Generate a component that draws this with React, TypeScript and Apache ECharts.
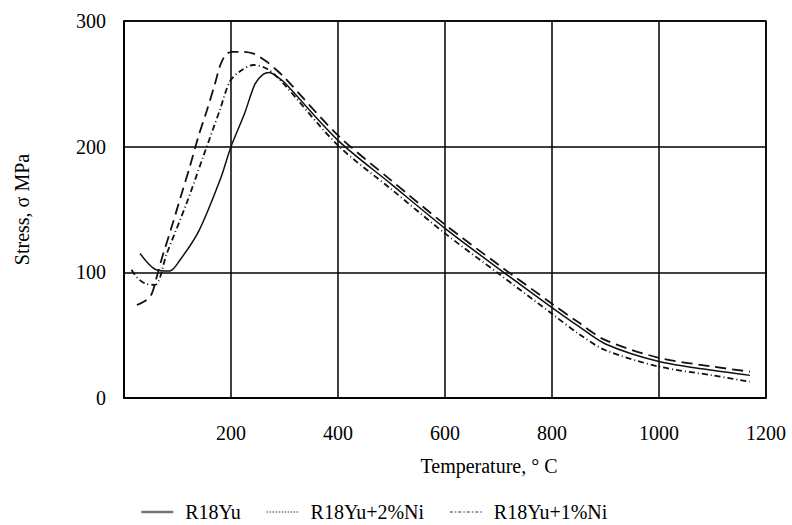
import React, { useEffect, useRef } from "react";
import * as echarts from "echarts";

const seriesNames = ["R18Yu", "R18Yu+2%Ni", "R18Yu+1%Ni"];

const xTicks = [0, 200, 400, 600, 800, 1000, 1200];
const yTicks = [0, 100, 200, 300];

const r18yuT = [30, 60, 85, 105, 140, 180, 200, 225, 245, 260, 272, 285, 300, 400, 500, 600, 700, 800, 850, 900, 1000, 1100, 1170];
const r18yuS = [115, 102, 101, 110, 133, 174, 200, 226, 250, 257.5, 259, 256, 251, 205, 170, 135, 103, 72, 57, 43, 29, 22, 18];

const ni2T = [24, 42, 52, 61, 70, 89, 108, 123, 139, 155, 170, 180, 190, 201, 222, 242, 267, 285, 300, 400, 500, 600, 700, 800, 850, 900, 1000, 1100, 1170];
const ni2S = [74, 78, 83, 96, 110, 136, 163, 184, 208, 229, 250, 265, 273, 275.5, 275.5, 274, 267.5, 261, 255, 209, 173, 138, 106, 75, 60, 46, 32, 25, 21];

const ni1T = [14, 24, 40, 58, 80, 117, 148, 179, 198, 217, 242, 267, 292, 400, 500, 600, 700, 800, 850, 900, 1000, 1100, 1170];
const ni1S = [102, 96, 91, 90, 115, 155, 192, 229, 252, 260, 265, 262, 253, 201, 166, 131, 99, 67, 51, 38, 25, 18, 13];

const zip = (xs: number[], ys: number[]) => xs.map((x, i) => [x, ys[i]]);

const FONT = "'Liberation Serif', 'Times New Roman', serif";

export default function App() {
  const ref = useRef<HTMLDivElement>(null);
  useEffect(() => {
    if (!ref.current) return;
    const chart = echarts.init(ref.current, undefined, { renderer: "svg" });
    const lineCommon = { type: "line", showSymbol: false, symbol: "none", smooth: 0.3 };
    const hiddenSymbol = { color: "rgba(0,0,0,0)", borderColor: "rgba(0,0,0,0)", borderWidth: 0, opacity: 0 };
    chart.setOption({
      animation: false,
      backgroundColor: "#fff",
      textStyle: { fontFamily: FONT, color: "#000" },
      grid: {
        left: 124, right: 26, top: 21, bottom: 127,
        show: true, borderColor: "#000", borderWidth: 1.5,
      },
      xAxis: {
        type: "value",
        min: xTicks[0], max: xTicks[xTicks.length - 1], interval: 200,
        name: "Temperature, ° C",
        nameLocation: "middle",
        nameGap: 58,
        nameTextStyle: { fontFamily: FONT, fontSize: 20, color: "#000", padding: [0, 0, 0, 88] },
        axisLine: { show: true, lineStyle: { color: "#000", width: 1.5 } },
        axisTick: { show: false },
        axisLabel: {
          margin: 25, fontFamily: FONT, fontSize: 20, color: "#000",
          formatter: (v: number) => (v === 0 ? "" : String(v)),
        },
        splitLine: { show: true, lineStyle: { color: "#000", width: 1.5 } },
      },
      yAxis: {
        type: "value",
        min: yTicks[0], max: yTicks[yTicks.length - 1], interval: 100,
        name: "Stress, σ MPa",
        nameLocation: "middle",
        nameGap: 92,
        nameTextStyle: { fontFamily: FONT, fontSize: 20, color: "#000" },
        axisLine: { show: true, lineStyle: { color: "#000", width: 1.5 } },
        axisTick: { show: false },
        axisLabel: { margin: 18, fontFamily: FONT, fontSize: 20, color: "#000" },
        splitLine: { show: true, lineStyle: { color: "#000", width: 1.5 } },
      },
      legend: {
        left: 135, top: 497,
        itemWidth: 32, itemHeight: 14, itemGap: 25,
        textStyle: { fontFamily: FONT, fontSize: 20, color: "#000", padding: [0, 0, 0, 7] },
        data: [
          { name: seriesNames[0], itemStyle: hiddenSymbol, lineStyle: { color: "#777", width: 2.5, type: "solid" } },
          { name: seriesNames[1], itemStyle: hiddenSymbol, lineStyle: { color: "#777", width: 1.5, type: [1.5, 1.5] } },
          { name: seriesNames[2], itemStyle: hiddenSymbol, lineStyle: { color: "#777", width: 1.5, type: [3, 2, 1.5, 2] } },
        ],
      },
      series: [
        {
          ...lineCommon, name: seriesNames[0], data: zip(r18yuT, r18yuS),
          lineStyle: { color: "#111", width: 1.5, type: "solid" },
          itemStyle: { color: "#111" }, z: 3,
        },
        {
          ...lineCommon, name: seriesNames[1], data: zip(ni2T, ni2S),
          lineStyle: { color: "#111", width: 1.8, type: [11, 6] },
          itemStyle: { color: "#111" }, z: 2,
        },
        {
          ...lineCommon, name: seriesNames[2], data: zip(ni1T, ni1S),
          lineStyle: { color: "#111", width: 1.8, type: [6, 3, 1, 3] },
          itemStyle: { color: "#111" }, z: 2,
        },
      ],
    });
    return () => chart.dispose();
  }, []);
  return (
    <div
      ref={ref}
      style={{ position: "absolute", left: 0, top: 0, width: 792, height: 525 }}
    />
  );
}
